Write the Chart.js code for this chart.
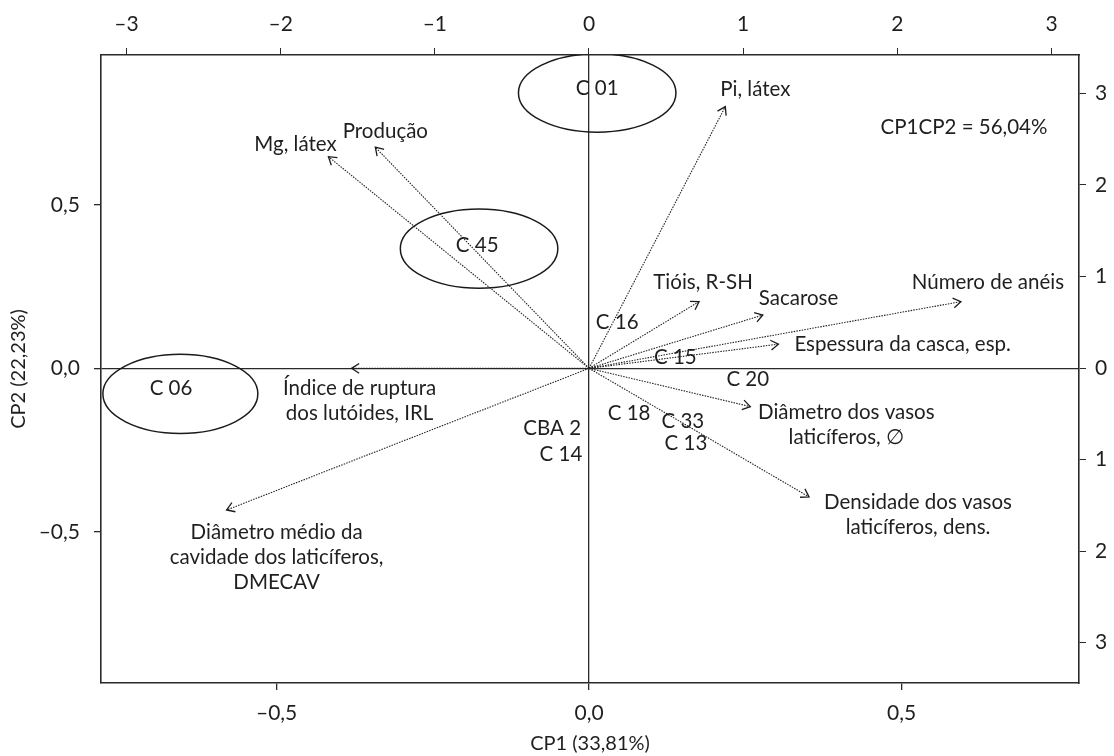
<!DOCTYPE html>
<html>
<head>
<meta charset="utf-8">
<script src="https://cdn.jsdelivr.net/npm/chart.js@4.4.1/dist/chart.umd.min.js"></script>
<style>
  html, body { margin: 0; padding: 0; background: #fff; }
  #wrap { width: 1114px; height: 756px; }
</style>
</head>
<body>
<div id="wrap"><canvas id="biplot"></canvas></div>
<script>
// variables: loadings on CP1 / CP2 (arrow tips)
const varNames = [
  ['Pi, látex'], ['Mg, látex'], ['Produção'], ['Tióis, R-SH'], ['Sacarose'],
  ['Número de anéis'], ['Espessura da casca, esp.'],
  ['Diâmetro dos vasos', 'laticíferos, ∅'],
  ['Densidade dos vasos', 'laticíferos, dens.'],
  ['Índice de ruptura', 'dos lutóides, IRL'],
  ['Diâmetro médio da', 'cavidade dos laticíferos,', 'DMECAV']
];
const varCP1 = [0.218, -0.417, -0.342, 0.176, 0.278, 0.595, 0.303, 0.258, 0.352, -0.380, -0.580];
const varCP2 = [0.800, 0.647, 0.676, 0.204, 0.163, 0.204, 0.074, -0.117, -0.393, 0.000, -0.433];

// genotypes (scores)
const genoNames = ['C 01', 'C 45', 'C 06', 'C 16', 'C 15', 'C 20', 'C 18', 'C 33', 'C 13', 'CBA 2', 'C 14'];
const genoCP1 = [0.013, -0.179, -0.669, 0.045, 0.138, 0.254, 0.064, 0.150, 0.155, -0.059, -0.045];
const genoCP2 = [0.857, 0.377, -0.060, 0.142, 0.035, -0.033, -0.137, -0.161, -0.228, -0.183, -0.262];

// highlighted groups (ellipses)
const groupCP1 = [0.013, -0.176, -0.654];
const groupCP2 = [0.842, 0.366, -0.078];
const groupRX = [0.126, 0.126, 0.124];
const groupRY = [0.120, 0.121, 0.121];

// tick values
const cp1Ticks = [-0.5, 0, 0.5];
const cp2Ticks = [-0.5, 0, 0.5];
const topTicks = [-3, -2, -1, 0, 1, 2, 3];
const rightTicks = [-3, -2, -1, 0, 1, 2, 3];

const noteText = 'CP1CP2 = 56,04%';
const noteCP1 = 0.600, noteCP2 = 0.738;

// label placement relative to arrow tip (px)
const varLabelStyle = [
  { dx: -5, dy: -17, align: 'left' },
  { dx: -33, dy: -12 },
  { dx: 10, dy: -16 },
  { dx: 4, dy: -19 },
  { dx: -4, dy: -17, align: 'left' },
  { dx: 27, dy: -19 },
  { dx: 16, dy: 0, align: 'left' },
  { dx: 96, dy: 6 },
  { dx: 109, dy: 6 },
  { dx: 8, dy: 20 },
  { dx: 50, dy: 22 }
];

const textColor = '#1f1f1f';
const lineColor = '#2a2a2a';
const labelFont = '20.5px Lato, "Open Sans", sans-serif';
const lineGap = 25;
const headLen = 9, headAng = Math.PI / 5.5;

Chart.defaults.font.family = 'Lato, "Open Sans", sans-serif';
Chart.defaults.color = textColor;

const dec = v => (v < 0 ? '–' : '') + Math.abs(v).toFixed(1).replace('.', ',');

const arrowSets = varNames.map((name, i) => ({
  label: name.join(' '),
  data: [{ x: 0, y: 0 }, { x: varCP1[i], y: varCP2[i] }],
  showLine: true,
  borderColor: '#222',
  borderWidth: 1.1,
  borderDash: [1.5, 1.2],
  pointRadius: 0,
  pointHoverRadius: 0,
  isArrow: true,
  varIndex: i
}));

const genoSet = {
  label: 'Genótipos',
  data: genoNames.map((n, i) => ({ x: genoCP1[i], y: genoCP2[i] })),
  pointRadius: 0,
  pointHoverRadius: 0,
  isGeno: true
};

const biplotDecor = {
  id: 'biplotDecor',
  beforeDatasetsDraw(chart) {
    const { ctx, chartArea: a, scales: { x, y } } = chart;
    ctx.save();
    ctx.beginPath();
    ctx.rect(a.left, a.top, a.right - a.left, a.bottom - a.top);
    ctx.clip();
    ctx.strokeStyle = '#1a1a1a';
    ctx.lineWidth = 1.5;
    groupCP1.forEach((cx, i) => {
      const px = x.getPixelForValue(cx), py = y.getPixelForValue(groupCP2[i]);
      const rx = Math.abs(x.getPixelForValue(cx + groupRX[i]) - px);
      const ry = Math.abs(y.getPixelForValue(groupCP2[i] + groupRY[i]) - py);
      ctx.beginPath();
      ctx.ellipse(px, py, rx, ry, 0, 0, Math.PI * 2);
      ctx.stroke();
    });
    ctx.restore();
  },
  afterDatasetsDraw(chart) {
    const { ctx, scales: { x, y } } = chart;
    ctx.save();
    ctx.font = labelFont;
    ctx.textBaseline = 'middle';
    chart.data.datasets.forEach((ds, di) => {
      const pts = chart.getDatasetMeta(di).data;
      if (ds.isArrow) {
        const a = pts[0], b = pts[1];
        const ang = Math.atan2(b.y - a.y, b.x - a.x);
        ctx.strokeStyle = '#1a1a1a';
        ctx.lineWidth = 1.3;
        ctx.beginPath();
        ctx.moveTo(b.x - headLen * Math.cos(ang - headAng), b.y - headLen * Math.sin(ang - headAng));
        ctx.lineTo(b.x, b.y);
        ctx.lineTo(b.x - headLen * Math.cos(ang + headAng), b.y - headLen * Math.sin(ang + headAng));
        ctx.stroke();
        const st = varLabelStyle[ds.varIndex];
        ctx.fillStyle = textColor;
        ctx.textAlign = st.align || 'center';
        varNames[ds.varIndex].forEach((line, k) => {
          ctx.fillText(line, b.x + st.dx, b.y + st.dy + k * lineGap);
        });
      } else if (ds.isGeno) {
        ctx.fillStyle = textColor;
        ctx.textAlign = 'center';
        pts.forEach((p, k) => ctx.fillText(genoNames[k], p.x, p.y));
      }
    });
    ctx.textAlign = 'center';
    ctx.fillText(noteText, x.getPixelForValue(noteCP1), y.getPixelForValue(noteCP2));
    ctx.restore();
  }
};

const zeroGrid = c => (c.tick && c.tick.value === 0 ? lineColor : 'rgba(0,0,0,0)');
const tickFont = { size: 21 };

new Chart(document.getElementById('biplot'), {
  type: 'scatter',
  data: { datasets: [...arrowSets, genoSet] },
  options: {
    responsive: true,
    maintainAspectRatio: false,
    animation: false,
    layout: { padding: 0 },
    plugins: { legend: { display: false }, tooltip: { enabled: false } },
    scales: {
      x: {
        type: 'linear', position: 'bottom', min: -0.781, max: 0.784,
        afterBuildTicks: s => { s.ticks = cp1Ticks.map(v => ({ value: v })); },
        afterFit: s => { s.height = 73; },
        ticks: { callback: dec, padding: 11, maxRotation: 0, autoSkip: false, font: tickFont },
        grid: { color: zeroGrid, tickColor: lineColor, tickLength: 7, lineWidth: 1.3 },
        border: { display: true, color: lineColor, width: 1.6 },
        title: { display: true, text: 'CP1 (33,81%)', font: { size: 20 }, padding: { top: 0, bottom: 0 } }
      },
      x2: {
        type: 'linear', position: 'top', min: -3.165, max: 3.178,
        afterBuildTicks: s => { s.ticks = topTicks.map(v => ({ value: v })); },
        afterFit: s => { s.height = 55; },
        ticks: { callback: v => (v < 0 ? '–' : '') + Math.abs(v), padding: 11, maxRotation: 0, autoSkip: false, font: tickFont },
        grid: { drawOnChartArea: false, tickColor: lineColor, tickLength: 7 },
        border: { display: true, color: lineColor, width: 1.6 }
      },
      y: {
        type: 'linear', position: 'left', min: -0.962, max: 0.958,
        afterBuildTicks: s => { s.ticks = cp2Ticks.map(v => ({ value: v })); },
        afterFit: s => { s.width = 101; },
        ticks: { callback: dec, padding: 14, autoSkip: false, font: tickFont },
        grid: { color: zeroGrid, tickColor: lineColor, tickLength: 7, lineWidth: 1.3 },
        border: { display: true, color: lineColor, width: 1.6 },
        title: { display: true, text: 'CP2 (22,23%)', font: { size: 20 }, padding: { top: 7, bottom: 0 } }
      },
      y2: {
        type: 'linear', position: 'right', min: -3.44, max: 3.42,
        afterBuildTicks: s => { s.ticks = rightTicks.map(v => ({ value: v })); },
        afterFit: s => { s.width = 35; },
        ticks: { callback: v => '' + Math.abs(v), padding: 9, autoSkip: false, font: tickFont },
        grid: { drawOnChartArea: false, tickColor: lineColor, tickLength: 7 },
        border: { display: true, color: lineColor, width: 1.6 }
      }
    }
  },
  plugins: [biplotDecor]
});
</script>
</body>
</html>
